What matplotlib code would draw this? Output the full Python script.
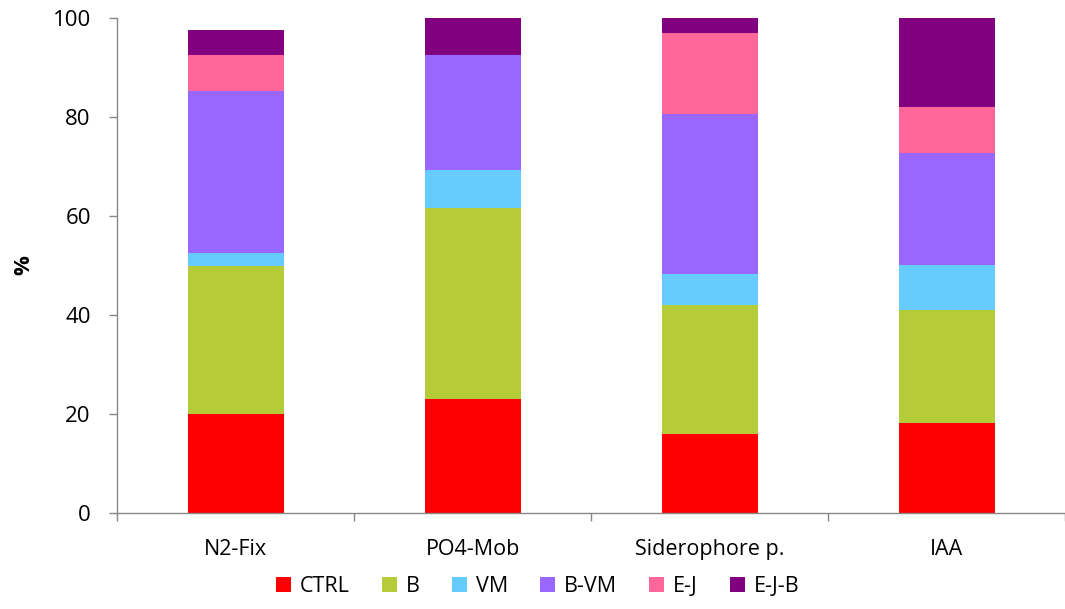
import matplotlib.pyplot as plt
import numpy as np

#... data (percent, stacked)
categories = ['N2-Fix', 'PO4-Mob', 'Siderophore p.', 'IAA']
groups = ['CTRL', 'B', 'VM', 'B-VM', 'E-J', 'E-J-B']
ctrl = [20.0, 23.0, 16.0, 18.2]
b    = [30.0, 38.6, 26.0, 22.8]
vm   = [2.6, 7.7, 6.3, 9.1]
bvm  = [32.7, 23.2, 32.3, 22.6]
ej   = [7.2, 0.0, 16.4, 9.3]
ejb  = [5.1, 7.5, 3.0, 18.0]
colors = ['#FF0000', '#B5CC38', '#66CCFF', '#9966FF', '#FF6699', '#800080']

series = [ctrl, b, vm, bvm, ej, ejb]

plt.rcParams['font.family'] = ['Open Sans', 'DejaVu Sans']

fig = plt.figure(figsize=(10.65, 6.09), dpi=100)
ax = fig.add_axes([0.110, 0.158, 0.890, 0.812])

x = np.arange(len(categories))
bottom = np.zeros(len(categories))
for vals, lab, col in zip(series, groups, colors):
    ax.bar(x, vals, 0.405, bottom=bottom, color=col, label=lab, linewidth=0)
    bottom += np.array(vals)

ax.set_xlim(-0.5, len(categories) - 0.5)
ax.set_ylim(0, 100)
ax.set_yticks([0, 20, 40, 60, 80, 100])
ax.set_ylabel('%', fontsize=16, fontweight='bold', labelpad=13)

#... category labels between boundary ticks
ax.set_xticks(x)
ax.set_xticklabels(categories, fontsize=15.5)
ax.tick_params(axis='x', length=0, pad=19)
ax.set_xticks(np.arange(-0.5, len(categories)), minor=True)
ax.tick_params(axis='x', which='minor', length=6, color='#888888', width=1)
ax.tick_params(axis='y', labelsize=16, length=6, color='#888888', width=1, pad=13)

for s in ['top', 'right']:
    ax.spines[s].set_visible(False)
for s in ['left', 'bottom']:
    ax.spines[s].set_color('#888888')
    ax.spines[s].set_linewidth(1)

fig.legend(loc='lower center', bbox_to_anchor=(0.505, -0.012), ncol=6, frameon=False,
           fontsize=15.5, handlelength=0.7, handleheight=0.7, handletextpad=0.4,
           columnspacing=1.5)

fig.savefig('out.png', dpi=100)
